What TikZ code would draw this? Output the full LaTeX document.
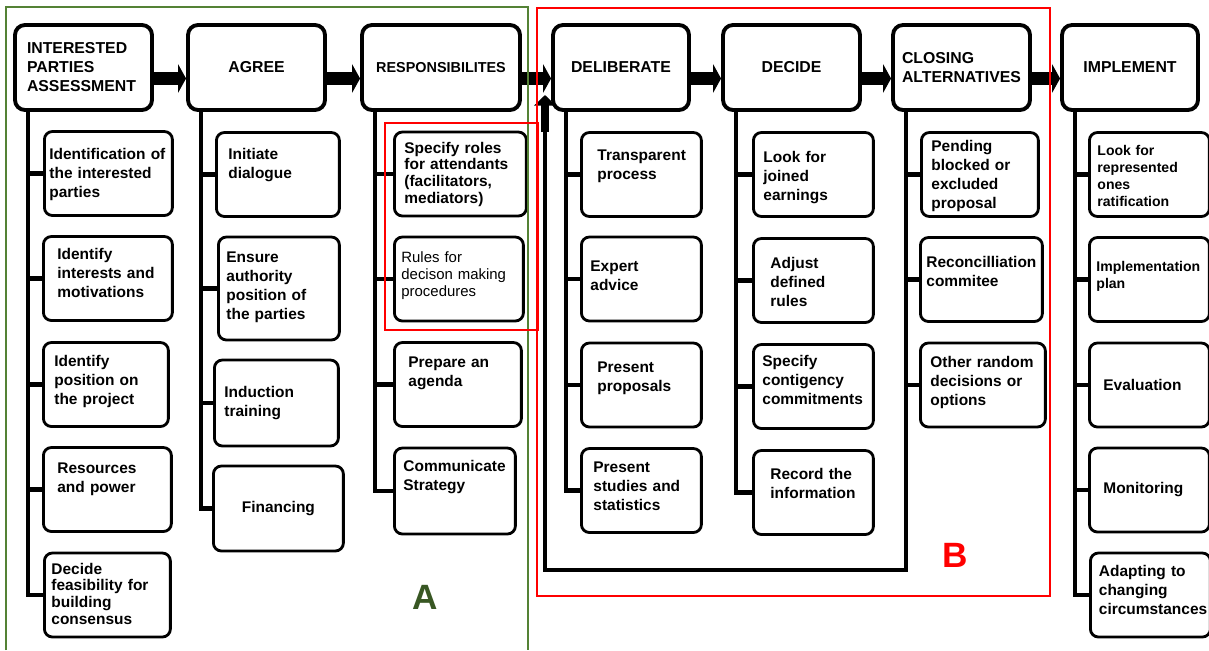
\documentclass[tikz,border=0pt]{standalone}
\usepackage{fontspec}
\setmainfont{Liberation Sans}
\usetikzlibrary{arrows.meta}
\definecolor{zoneA}{RGB}{84,130,53}
\definecolor{labelA}{RGB}{56,87,35}
\definecolor{zoneB}{RGB}{255,0,0}

\begin{document}
\begin{tikzpicture}[x=0.02cm,y=-0.02cm,
  head/.style={draw,fill=white,line width=2.2pt,rounded corners=.2cm,minimum width=2.74cm,minimum height=1.7cm,font=\fontsize{9}{10.8}\selectfont\bfseries},
  sub/.style={draw,fill=white,line width=1.6pt,rounded corners=.16cm,anchor=west,minimum width=2.4cm,minimum height=1.68cm,inner xsep=2pt,align=left,font=\fontsize{8.8}{10.8}\selectfont\bfseries},
  tight/.style={font=\fontsize{8.8}{9.6}\selectfont\bfseries},
  small/.style={font=\fontsize{8}{9.6}\selectfont\bfseries},
  lift/.code={\pgfmathsetlengthmacro\liftdp{1.1338pt*#1}\tikzset{text height=0pt,text depth/.expanded=\liftdp}},
  trunk/.style={line width=2.4pt},
  blk/.style={line width=7.4pt,-{Triangle[length=4.5pt,width=16pt]}},
  zone/.style={line width=1.1pt},
  tag/.style={font=\fontsize{20}{24}\selectfont\bfseries}]
\useasboundingbox (0,0) rectangle (1209,650);

% main steps
\node[head,align=left,text width=2.26cm] (h1) at (83.5,67.5) {INTERESTED\\PARTIES\\ASSESSMENT};
\node[head] (h2) at (256.5,67.5) {AGREE};
\node[head,minimum width=3.16cm,font=\fontsize{8.2}{10}\selectfont\bfseries] (h3) at (441,67.5) {RESPONSIBILITES};
\node[head,minimum width=2.72cm] (h4) at (621,67.5) {DELIBERATE};
\node[head] (h5) at (791.5,67.5) {DECIDE};
\node[head,align=left,text width=2.38cm] (h6) at (961.5,67.5) {CLOSING\\ALTERNATIVES};
\node[head,minimum width=2.72cm] (h7) at (1130,67.5) {IMPLEMENT};
\foreach \a/\b in {h1/h2,h2/h3,h3/h4,h4/h5,h5/h6,h6/h7}
  \draw[blk] ([yshift=-.22cm]\a.east) -- ([yshift=-.22cm]\b.west);

% interested parties
\node[sub,minimum width=2.56cm,text width=2.36cm,lift=14] (c11) at (43,173.5) {Identification~of\\the interested\\parties};
\node[sub,minimum width=2.58cm,text width=2.02cm,lift=19] (c12) at (42,278.5) {Identify\\interests and\\motivations};
\node[sub,minimum width=2.5cm,text width=2.06cm,lift=18] (c13) at (42,384.5) {Identify\\position on\\the project};
\node[sub,minimum width=2.56cm,text width=2cm,lift=16] (c14) at (42,489.5) {Resources\\and power};
\node[sub,tight,minimum width=2.52cm,text width=2.24cm,lift=21] (c15) at (43,595) {Decide\\feasibility for\\building\\consensus};

% agree
\node[sub,minimum width=2.46cm,text width=1.98cm,lift=15] (c21) at (215,174.5) {Initiate\\dialogue};
\node[sub,minimum width=2.42cm,minimum height=2.06cm,text width=2.1cm,lift=26] (c22) at (217,288.5) {Ensure\\authority\\position of\\the parties};
\node[sub,minimum width=2.48cm,minimum height=1.72cm,text width=2.08cm,lift=6] (c23) at (213,403) {Induction\\training};
\node[sub,minimum width=2.6cm,minimum height=1.7cm,align=center] (c24) at (212,508.5) {Financing};

% responsibilities
\node[sub,tight,minimum width=2.64cm,text width=2.24cm,lift=21] (c31) at (393,174) {Specify roles\\for attendants\\(facilitators,\\mediators)};
\node[sub,font=\fontsize{8.5}{9.9}\selectfont,minimum width=2.58cm,text width=2.3cm,lift=17] (c32) at (393,279) {Rules for\\decison making\\procedures};
\node[sub,minimum width=2.54cm,text width=1.98cm,lift=17] (c33) at (393,384.5) {Prepare an\\agenda};
\node[sub,minimum width=2.42cm,minimum height=1.72cm,text width=2.06cm,lift=20] (c34) at (393,491) {Communicate\\Strategy};

% deliberate
\node[sub,text width=1.76cm,lift=14] (c41) at (580,174.5) {Transparent\\process};
\node[sub,text width=2.04cm,lift=8] (c42) at (580,279) {Expert\\advice};
\node[sub,text width=1.76cm,lift=13] (c43) at (580,385) {Present\\proposals};
\node[sub,text width=1.92cm,lift=18] (c44) at (580,490.5) {Present\\studies and\\statistics};

% decide
\node[sub,text width=2cm,lift=12] (c51) at (752,174.5) {Look for\\joined\\earnings};
\node[sub,text width=1.72cm,lift=12] (c52) at (752,280.5) {Adjust\\defined\\rules};
\node[sub,text width=2.04cm,lift=20] (c53) at (752,386.5) {Specify\\contigency\\commitments};
\node[sub,text width=1.72cm,lift=13] (c54) at (752,492.5) {Record the\\information};

% closing alternatives
\node[sub,minimum width=2.34cm,text width=1.94cm,lift=23] (c61) at (920,174.5) {Pending\\blocked or\\excluded\\proposal};
\node[sub,minimum width=2.44cm,text width=2.2cm,lift=12] (c62) at (919,279.5) {Reconcilliation\\commitee};
\node[sub,minimum width=2.5cm,text width=2.1cm,lift=18] (c63) at (919,385) {Other random\\decisions or\\options};

% implement
\node[sub,small,text width=2.08cm,lift=19] (c71) at (1088,174.5) {Look for\\represented\\ones\\ratification};
\node[sub,small,text width=2.12cm,lift=8] (c72) at (1088,279.5) {Implementation\\plan};
\node[sub,text width=1.84cm] (c73) at (1088,385) {Evaluation};
\node[sub,text width=1.84cm] (c74) at (1088,490) {Monitoring};
\node[sub,text width=2.06cm,lift=19] (c75) at (1089,595) {Adapting to\\changing\\circumstances};

% trunks and branches
\foreach \i in {1,...,7} \coordinate (t\i) at ([xshift=.3cm]h\i.south west);
\draw[trunk] (t1) |- (c15.west);
\foreach \c in {c11,c12,c13,c14} \draw[trunk] (t1 |- \c.west) -- (\c.west);
\draw[trunk] (t2) |- (c24.west);
\foreach \c in {c21,c22,c23} \draw[trunk] (t2 |- \c.west) -- (\c.west);
\draw[trunk] (t3) |- (c34.west);
\foreach \c in {c31,c32,c33} \draw[trunk] (t3 |- \c.west) -- (\c.west);
\draw[trunk] (t4) |- (c44.west);
\foreach \c in {c41,c42,c43} \draw[trunk] (t4 |- \c.west) -- (\c.west);
\draw[trunk] (t5) |- (c54.west);
\foreach \c in {c51,c52,c53} \draw[trunk] (t5 |- \c.west) -- (\c.west);
\foreach \c in {c61,c62,c63} \draw[trunk] (t6 |- \c.west) -- (\c.west);
\draw[trunk] (t7) |- (c75.west);
\foreach \c in {c71,c72,c73,c74} \draw[trunk] (t7 |- \c.west) -- (\c.west);

% feedback loop back to deliberate
\coordinate (turn) at (545,570);
\coordinate (neck) at (545,132);
\coordinate (back) at (545,95);
\draw[trunk] (t6) |- (turn) -- (neck);
\draw[line width=5pt,-{Triangle[length=6pt,width=12pt]}] (neck) -- (back);

% zones
\draw[zone,zoneA] (6,650) -- (6,7) -- (528,7) -- (528,650);
\draw[zone,zoneB] (537,8) rectangle (1050,596);
\draw[zone,zoneB] (385,123) rectangle (538,330);
\node[tag,text=labelA] (la) at (425,597) {A};
\node[tag,text=zoneB] (lb) at (955,555) {B};
\end{tikzpicture}
\end{document}
